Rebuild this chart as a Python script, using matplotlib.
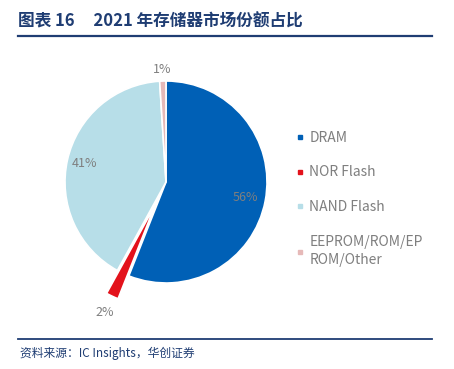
"""
2021 memory market share pie
"""

import numpy as np
import matplotlib
matplotlib.use("Agg")
import matplotlib.pyplot as plt  # type: ignore
from matplotlib.lines import Line2D  # type: ignore

plt.rcParams["font.family"] = ["Noto Sans CJK SC", "DejaVu Sans"]

categories = ["DRAM", "NOR Flash", "NAND Flash", "EEPROM/ROM/EP\nROM/Other"]
shares = [56, 2, 41, 1]
colors = ["#0060B6", "#E3121B", "#B7DEE8", "#E6B9B8"]
explode = [0, 0.25, 0, 0]
# label distance per slice (relative to radius)
label_dist = [0.80, 1.18, 0.83, 1.11]

TITLE = "图表 16     2021 年存储器市场份额占比"
SOURCE = "资料来源：IC Insights，华创证券"
DARK_BLUE = "#1F3D73"
GREY = "#7F7F7F"

W, H = 454, 369
fig = plt.figure(figsize=(W / 100, H / 100), dpi=100)

# pie axes: center (166, 182) px, radius 101 px
cx, cy, r = 166, 182, 101
half = 1.3 * r
ax = fig.add_axes([(cx - half) / W, (H - cy - half) / H, 2 * half / W, 2 * half / H])
wedges, _ = ax.pie(
    shares,
    colors=colors,
    explode=explode,
    startangle=90,
    counterclock=False,
    wedgeprops={"edgecolor": "white", "linewidth": 1.2},
)
ax.set_xlim(-1.3, 1.3)
ax.set_ylim(-1.3, 1.3)
ax.set_aspect("equal")
ax.axis("off")

for w, val, d in zip(wedges, shares, label_dist):
    ang = np.deg2rad((w.theta1 + w.theta2) / 2)
    x = w.center[0] + d * w.r * np.cos(ang)
    y = w.center[1] + d * w.r * np.sin(ang)
    ax.text(x, y, f"{val}%", ha="center", va="center", fontsize=9, color=GREY)

# legend
handles = [
    Line2D([], [], marker="s", linestyle="none", markersize=3.5,
           markerfacecolor=c, markeredgecolor=c)
    for c in colors
]
leg = fig.legend(
    handles, categories,
    loc="upper left",
    bbox_to_anchor=(290 / W, 1 - 125 / H),
    frameon=False,
    fontsize=10,
    labelcolor=GREY,
    handlelength=0.6,
    handletextpad=0.4,
    labelspacing=1.5,
    borderaxespad=0,
)
for t in leg.get_texts():
    t.set_linespacing(1.35)

# title and rules
fig.text(18 / W, 1 - 22 / H, TITLE, fontsize=12, fontweight="bold",
         color=DARK_BLUE, va="center", ha="left")
fig.add_artist(Line2D([18 / W, 432 / W], [1 - 36 / H, 1 - 36 / H],
                      color=DARK_BLUE, linewidth=1.6))
fig.add_artist(Line2D([18 / W, 432 / W], [1 - 339 / H, 1 - 339 / H],
                      color=DARK_BLUE, linewidth=1.3))
fig.text(20 / W, 1 - 353 / H, SOURCE, fontsize=8.5, style="italic",
         color=DARK_BLUE, va="center", ha="left")

fig.savefig("out.png", dpi=100)
